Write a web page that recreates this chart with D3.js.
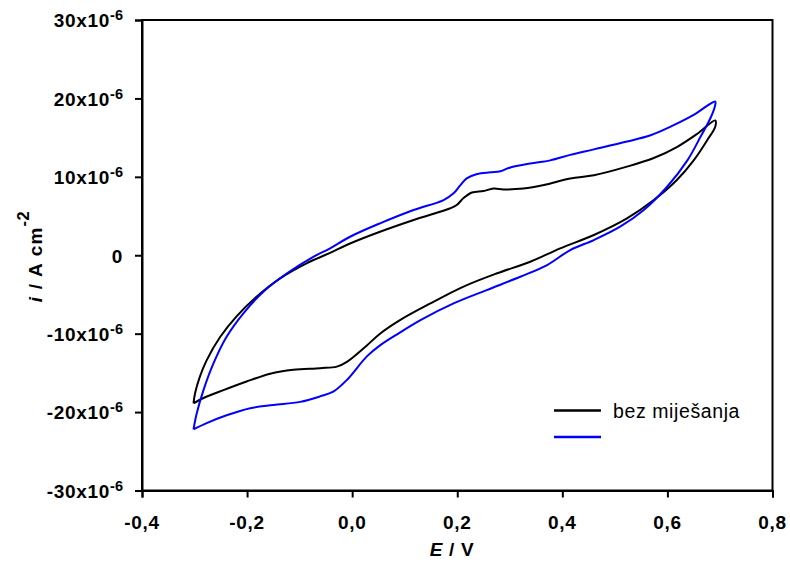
<!DOCTYPE html>
<html><head><meta charset="utf-8">
<script src="https://cdn.jsdelivr.net/npm/d3@7"></script>
<style>body{margin:0;background:#fff}svg{display:block}text{font-family:"Liberation Sans",Arial,sans-serif}</style>
</head><body><svg id="c" width="790" height="562"></svg>
<script>
// ---- data ----
const xTicks = [-0.4,-0.2,0.0,0.2,0.4,0.6,0.8];
const xTickLabels = ["-0,4","-0,2","0,0","0,2","0,4","0,6","0,8"];
const yTicks = [-30,-20,-10,0,10,20,30]; // µA cm-2
const yTickLabels = ["-30x10","-20x10","-10x10","0","10x10","20x10","30x10"];
const seriesNames = ["bez miješanja",""];
const blackE = [-0.302,-0.286,-0.245,-0.201,-0.156,-0.112,-0.061,-0.029,-0.010,0.028,0.053,0.091,0.149,0.212,0.276,0.339,0.396,0.460,0.523,0.574,0.618,0.650,0.676,0.691,
  0.691,0.657,0.618,0.574,0.523,0.460,0.415,0.365,0.326,0.288,0.269,0.250,0.228,0.212,0.199,0.187,0.117,0.053,-0.004,-0.042,-0.086,-0.137,-0.182,-0.220,-0.251,-0.277,-0.290,-0.299,-0.302];
const blackI = [-18.9,-18.3,-17.2,-16.1,-15.1,-14.6,-14.4,-14.2,-13.6,-11.5,-10.0,-8.27,-6.14,-4.0,-2.3,-0.83,0.88,2.58,4.7,7.04,9.6,12.1,14.7,16.4,
  17.2,15.5,13.8,12.4,11.3,10.2,9.8,8.95,8.5,8.4,8.5,8.2,8.0,7.3,6.4,6.0,4.5,3.0,1.5,0.3,-1.0,-2.95,-5.3,-7.8,-10.4,-13.4,-15.5,-17.6,-18.9];
const blueE = [-0.302,-0.277,-0.239,-0.194,-0.150,-0.099,-0.061,-0.036,-0.010,0.028,0.053,0.090,0.130,0.193,0.256,0.320,0.371,0.415,0.460,0.510,0.555,0.599,0.638,0.663,0.682,0.690,
  0.691,0.650,0.606,0.568,0.523,0.460,0.415,0.377,0.339,0.301,0.282,0.263,0.238,0.218,0.206,0.193,0.174,0.117,0.053,-0.004,-0.042,-0.074,-0.124,-0.169,-0.207,-0.239,-0.264,-0.283,-0.296,-0.302];
const blueI = [-22.2,-21.4,-20.4,-19.5,-19.1,-18.7,-18.0,-17.4,-15.9,-12.9,-11.5,-9.9,-8.27,-6.14,-4.44,-2.74,-1.25,0.66,1.94,3.64,5.77,8.7,12.1,15.1,17.5,18.9,
  19.6,17.9,16.4,15.3,14.5,13.5,12.8,12.1,11.7,11.2,10.7,10.57,10.36,9.8,8.95,7.9,7.04,5.77,4.07,2.36,0.88,-0.2,-2.3,-4.65,-7.4,-10.4,-13.8,-17.2,-20.2,-22.2];

// ---- layout ----
const L=142, R=772.5, T=20, B=490.5;
const svg = d3.select("#c");
const x = d3.scaleLinear().domain([-0.4,0.8]).range([L,R]);
const y = d3.scaleLinear().domain([-30,30]).range([B,T]);

// frame
svg.append("rect").attr("x",L).attr("y",T).attr("width",R-L).attr("height",B-T)
  .attr("fill","none").attr("stroke","#000").attr("stroke-width",2);

// axes
const xAxis = d3.axisBottom(x).tickValues(xTicks).tickSize(7).tickFormat("");
const gx = svg.append("g").attr("transform",`translate(0,${B})`).call(xAxis);
const yAxis = d3.axisLeft(y).tickValues(yTicks).tickSize(7).tickFormat("");
const gy = svg.append("g").attr("transform",`translate(${L},0)`).call(yAxis);
[gx,gy].forEach(g=>{g.select(".domain").attr("stroke","#000").attr("stroke-width",2);
  g.selectAll(".tick line").attr("stroke","#000").attr("stroke-width",2);});

const FS = 19, LS = 0.7;
// x tick labels
xTicks.forEach((v,k)=>{
  svg.append("text").attr("x",x(v)).attr("y",528.5).attr("text-anchor","middle")
    .attr("font-size",FS).attr("letter-spacing",LS).attr("font-weight","bold").text(xTickLabels[k]);
});
// y tick labels
yTicks.forEach((v,k)=>{
  const t = svg.append("text").attr("x",L-19).attr("y",y(v)+7.3).attr("text-anchor","end")
    .attr("font-size",FS).attr("letter-spacing",LS).attr("font-weight","bold");
  if (v===0) { t.text("0"); }
  else {
    t.append("tspan").text(yTickLabels[k]);
    t.append("tspan").attr("dy",-7).attr("font-size",14.5).attr("letter-spacing",0).text("-6");
  }
});

// axis titles
const xt = svg.append("text").attr("x",452).attr("y",556).attr("text-anchor","middle")
  .attr("font-size",FS).attr("letter-spacing",LS).attr("font-weight","bold");
xt.append("tspan").attr("font-style","italic").text("E");
xt.append("tspan").text(" / V");
const yt = svg.append("text").attr("transform",`translate(41.7,256.5) rotate(-90)`)
  .attr("text-anchor","middle").attr("font-size",FS).attr("letter-spacing",1.2).attr("font-weight","bold");
yt.append("tspan").attr("font-style","italic").text("i");
yt.append("tspan").text(" / A cm");
yt.append("tspan").attr("dy",-13).attr("font-size",16.5).attr("letter-spacing",0.5).text("-2");

// curves
const line = d3.line().x(d=>x(d[0])).y(d=>y(d[1])).curve(d3.curveCatmullRom.alpha(0.5));
const series = [
  {E:blackE, I:blackI, color:"#000000"},
  {E:blueE, I:blueI, color:"#0000ff"}
];
series.forEach(s=>{
  svg.append("path").datum(s.E.map((e,k)=>[e,s.I[k]]))
    .attr("d",line).attr("fill","none").attr("stroke",s.color).attr("stroke-width",2)
    .attr("stroke-linejoin","round");
});

// legend
const legY=[410.5,437];
series.forEach((s,k)=>{
  svg.append("line").attr("x1",554).attr("x2",601).attr("y1",legY[k]).attr("y2",legY[k])
    .attr("stroke",s.color).attr("stroke-width",2.5);
  if (seriesNames[k]) svg.append("text").attr("x",613).attr("y",legY[k]+7)
    .attr("font-size",19.5).attr("letter-spacing",0.6).text(seriesNames[k]);
});
</script></body></html>
